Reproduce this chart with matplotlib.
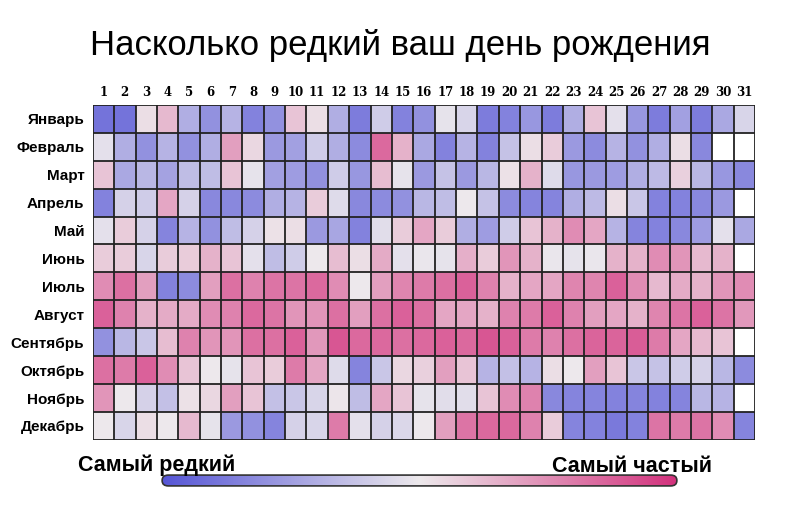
import numpy as np
import matplotlib
matplotlib.use("Agg")
import matplotlib.pyplot as plt
from matplotlib.colors import LinearSegmentedColormap
from matplotlib.patches import FancyBboxPatch

months = ["Январь", "Февраль", "Март", "Апрель", "Май", "Июнь", "Июль",
          "Август", "Сентябрь", "Октябрь", "Ноябрь", "Декабрь"]
days = [str(d) for d in range(1, 32)]
nan = np.nan

jan = [1, 1, 5.3, 6.3, 3, 2, 3.2, 1.5, 2, 6, 5.3, 3, 1.3, 4, 1.5, 2, 4.8, 4.3, 1.3, 1.5, 2.2, 1.3, 3, 6, 4.7, 2.2, 1.3, 2.5, 1.3, 2.8, 4.3]
feb = [4.7, 3, 2, 3.2, 2, 3, 7, 5.5, 2.3, 2.5, 4, 3, 1.8, 8.5, 6.5, 2.8, 1.5, 3.2, 1.5, 3.7, 5.3, 5.8, 2.3, 1.8, 3.2, 2, 3, 5.3, 1.7, nan, nan]
mar = [6, 2.8, 3.3, 2.6, 3.5, 3.5, 6, 4.8, 2.5, 2.4, 2, 4, 2.2, 6.2, 4.8, 2.3, 3.7, 2.3, 3.3, 5.2, 6.5, 4.5, 2.2, 2.3, 2.4, 3, 3.4, 5.7, 3.3, 2.2, 1.7]
apr = [1.5, 4.2, 4, 6.8, 4.2, 1.7, 1.7, 1.8, 3, 3.2, 5.8, 4.5, 1.7, 1.8, 2, 3.3, 3.5, 5, 3.7, 1.8, 1.6, 1.6, 3, 3.4, 5.3, 3.8, 1.5, 1.5, 1.7, 2.3, nan]
may = [4.7, 5.8, 4.2, 1.6, 3.2, 2, 3.5, 4.2, 5.2, 5.3, 2.3, 2.7, 1.5, 4.6, 5.8, 6.8, 5.8, 3, 2.4, 4, 6, 6.5, 7.5, 6.8, 3.2, 1.6, 1.5, 1.7, 2.4, 4.7, 2.8]
jun = [5.8, 5.8, 4.3, 5.8, 5.8, 6.5, 6, 4.7, 3.5, 4, 5, 6.2, 5.3, 6.7, 4.7, 4.9, 4.8, 6.6, 5.8, 7.3, 6.5, 4.9, 4.8, 4.9, 6.5, 6.5, 7.5, 7.3, 6.3, 6.5, nan]
jul = [7.5, 8.3, 7, 1.5, 1.8, 7, 8.3, 7.8, 8.2, 8.2, 8.5, 7.5, 5, 7, 7.7, 8, 8.3, 8.7, 7.8, 6.5, 6.8, 6.8, 7.7, 7.7, 8.7, 7.5, 6.3, 6.7, 6.5, 7.3, 7.5]
aug = [8.7, 7.8, 6.5, 6.7, 6.7, 7.5, 7.8, 8.5, 8.2, 7.3, 7.3, 8.3, 7, 8.3, 8.7, 8.3, 6.8, 6.8, 6.5, 7.8, 8, 8.7, 7.8, 7, 6.8, 6.5, 7.7, 8.2, 8.7, 8.2, 7.2]
sep = [2, 3.3, 3.8, 6.2, 7.8, 7.3, 7.3, 8.3, 8.3, 8.7, 7.2, 9, 8.5, 8.5, 8.3, 8.5, 8.7, 8.5, 9, 8.7, 8, 7.8, 8.3, 8.6, 8.6, 8.8, 8, 6.8, 6.3, 6, nan]
oct_ = [8.3, 8, 8.7, 7.5, 6, 5, 4.8, 6, 5.8, 8, 6.8, 4.5, 1.6, 3.8, 5.5, 5.7, 7, 6, 3.2, 3.6, 3.2, 5.3, 5, 7, 6, 3.8, 3.7, 4, 4.2, 3.3, 1.8]
nov = [7.3, 5, 4.2, 3.6, 5.2, 5.5, 7, 6, 3.6, 3.8, 4.3, 5.1, 3.5, 6.8, 6, 4.8, 4.6, 4.6, 6, 7.5, 7.8, 1.7, 1.6, 1.6, 1.5, 1.6, 1.5, 1.6, 3.3, 3.2, nan]
dec = [5, 4.3, 5.3, 5, 6.3, 4.8, 2.3, 2, 1.6, 4.2, 4.3, 8, 4.7, 4.2, 4.4, 5, 7, 8.2, 8.5, 8.5, 7.8, 5.8, 1.6, 1.5, 1.2, 1.5, 8.2, 8, 8.2, 7.5, 1.6]

data = np.array([jan, feb, mar, apr, may, jun, jul, aug, sep, oct_, nov, dec], dtype=float)

cmap = LinearSegmentedColormap.from_list(
    "rare", [(0.0, "#5656d6"), (0.5, "#ede9ec"), (1.0, "#d3327d")])

fig = plt.figure(figsize=(8, 5.32), dpi=100)
fig.patch.set_facecolor("white")

ax = fig.add_axes([0.116, 0.173, 0.828, 0.630])
masked = np.ma.masked_invalid(data)
ax.pcolormesh(np.arange(32), np.arange(13), masked, cmap=cmap, vmin=0, vmax=10,
              edgecolors="none")
ax.set_xlim(0, 31)
ax.set_ylim(12, 0)
for x in range(32):
    ax.axvline(x, color="#222222", lw=1.3)
for y in range(13):
    ax.axhline(y, color="#222222", lw=1.3)
for s in ax.spines.values():
    s.set_visible(False)

ax.set_xticks(np.arange(31) + 0.5)
ax.set_xticklabels(days, fontfamily="DejaVu Serif", fontweight="bold", fontsize=8.5)
ax.xaxis.tick_top()
ax.set_yticks(np.arange(12) + 0.5)
ax.set_yticklabels(months, fontfamily="Liberation Sans", fontweight="bold", fontsize=11)
ax.tick_params(length=0, pad=4)
ax.tick_params(axis="y", pad=6)

fig.text(0.5, 0.915, "Насколько редкий ваш день рождения", ha="center", va="center",
         fontsize=25, fontfamily="Liberation Sans")

# legend bar
cax = fig.add_axes([157 / 800, 1 - 487 / 532, (682 - 157) / 800, 13 / 532])
grad = np.linspace(0, 1, 256)[None, :]
im = cax.imshow(grad, aspect="auto", cmap=cmap, extent=[0, 1, 0, 1])
cax.set_xlim(-0.01, 1.01)
cax.set_ylim(-0.1, 1.1)
patch = FancyBboxPatch((0, 0), 1, 1, boxstyle="round,pad=0,rounding_size=0.012",
                       mutation_aspect=40, facecolor="none", edgecolor="#333333", lw=1.2,
                       transform=cax.transData)
cax.add_patch(patch)
im.set_clip_path(patch)
cax.axis("off")

fig.text(78 / 800, 1 - 465 / 532, "Самый редкий", ha="left", va="center",
         fontsize=15.5, fontweight="bold", fontfamily="Liberation Sans")
fig.text(712 / 800, 1 - 467 / 532, "Самый частый", ha="right", va="center",
         fontsize=15.5, fontweight="bold", fontfamily="Liberation Sans")

fig.savefig("out.png", dpi=100, facecolor="white")
